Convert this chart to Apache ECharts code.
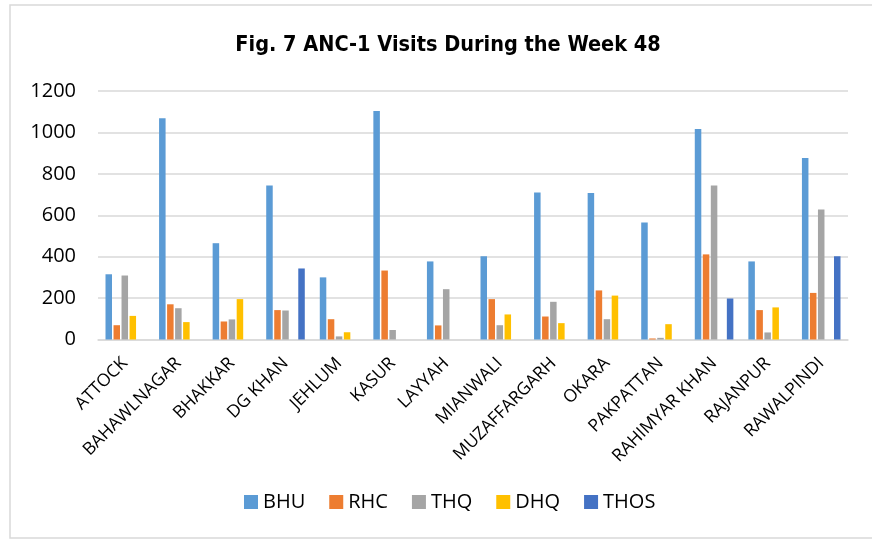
<!DOCTYPE html>
<html>
<head>
<meta charset="utf-8">
<script src="https://cdn.jsdelivr.net/npm/echarts@6/dist/echarts.min.js"></script>
<style>
html,body{margin:0;padding:0;background:#fff;}
#chart{width:872px;height:539px;}
</style>
</head>
<body>
<div id="chart"></div>
<script>
const categories = ['ATTOCK','BAHAWLNAGAR','BHAKKAR','DG KHAN','JEHLUM','KASUR','LAYYAH','MIANWALI','MUZAFFARGARH','OKARA','PAKPATTAN','RAHIMYAR KHAN','RAJANPUR','RAWALPINDI'];
const bhu  = [315, 1069, 465, 744, 300, 1103, 377, 402, 710, 707, 565, 1016, 377, 876];
const rhc  = [69, 170, 87, 142, 98, 333, 68, 195, 111, 237, 5, 411, 142, 225];
const thq  = [309, 151, 97, 140, 15, 46, 243, 69, 182, 98, 8, 744, 34, 628];
const dhq  = [114, 84, 195, null, 35, null, null, 121, 79, 212, 74, null, 155, null];
const thos = [null, null, null, 343, null, null, null, null, null, null, null, 198, null, 402];
const yTicks = [0, 200, 400, 600, 800, 1000, 1200];

const font = '"Open Sans", "Noto Sans", sans-serif';
const chart = echarts.init(document.getElementById('chart'));
function s(name, data, color) {
  return { name, type: 'bar', data, itemStyle: { color }, barGap: '23%', barCategoryGap: '28%' };
}
chart.setOption({
  backgroundColor: '#fff',
  animation: false,
  textStyle: { fontFamily: font },
  graphic: [{
    type: 'rect', shape: { x: 10, y: 5, width: 880, height: 533 },
    style: { fill: 'none', stroke: '#d9d9d9', lineWidth: 1.5 }, silent: true
  }],
  title: {
    text: 'Fig. 7 ANC-1 Visits During the Week 48',
    left: 443, top: 29, textAlign: 'center',
    textStyle: { fontFamily: '"Liberation Sans Narrow", "DejaVu Sans Condensed", sans-serif', fontWeight: 'bold', fontSize: 21.5, color: '#000' }
  },
  legend: {
    left: 239, top: 487, itemWidth: 14, itemHeight: 14, itemGap: 24,
    icon: 'rect',
    textStyle: { fontFamily: font, fontSize: 20, color: '#000' },
    data: ['BHU','RHC','THQ','DHQ','THOS']
  },
  grid: { left: 98, right: 24, top: 91, height: 248.5, containLabel: false },
  xAxis: {
    type: 'category', data: categories,
    axisLine: { lineStyle: { color: '#d9d9d9', width: 1.5 } },
    axisTick: { show: false },
    axisLabel: { rotate: 45, interval: 0, margin: 21, fontSize: 17.5, color: '#000', fontFamily: font }
  },
  yAxis: {
    type: 'value', min: yTicks[0], max: yTicks[yTicks.length-1], interval: 200,
    axisLine: { show: false }, axisTick: { show: false },
    splitLine: { lineStyle: { color: '#d9d9d9', width: 1.5 } },
    axisLabel: { margin: 22, fontSize: 20, color: '#000', fontFamily: font, formatter: v => String(v) }
  },
  series: [
    s('BHU', bhu, '#5B9BD5'),
    s('RHC', rhc, '#ED7D31'),
    s('THQ', thq, '#A5A5A5'),
    s('DHQ', dhq, '#FFC000'),
    s('THOS', thos, '#4472C4')
  ]
});
</script>
</body>
</html>
